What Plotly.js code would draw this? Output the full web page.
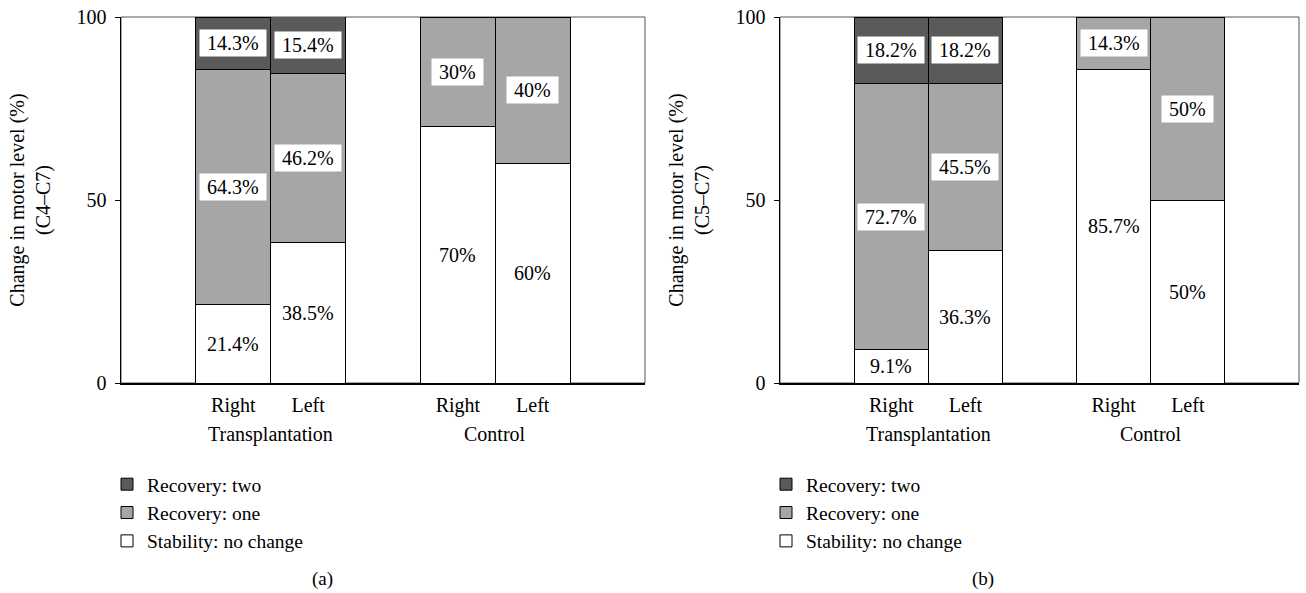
<!DOCTYPE html>
<html>
<head>
<meta charset="utf-8">
<script src="https://cdn.plot.ly/plotly-3.0.1.min.js"></script>
<style>
  html, body { margin: 0; padding: 0; background: #fff; }
  #chart { width: 1306px; height: 593px; }
</style>
</head>
<body>
<div id="chart"></div>
<script>
// ---------------- data ----------------
const groups = ['Transplantation', 'Control'];
const sides = ['Right', 'Left'];
const seriesNames = ['Stability: no change', 'Recovery: one', 'Recovery: two'];
// order of bars: Transplantation Right, Transplantation Left, Control Right, Control Left
// panel (a): C4–C7
const stabilityA   = [21.4, 38.5, 70, 60];
const recoveryOneA = [64.3, 46.2, 30, 40];
const recoveryTwoA = [14.3, 15.4, 0, 0];
// panel (b): C5–C7
const stabilityB   = [9.1, 36.3, 85.7, 50];
const recoveryOneB = [72.7, 45.5, 14.3, 50];
const recoveryTwoB = [18.2, 18.2, 0, 0];
const yTickValues = [0, 50, 100];
const yTitles = ['Change in motor level (%)<br>(C4–C7)', 'Change in motor level (%)<br>(C5–C7)'];
const captions = ['(a)', '(b)'];

// ---------------- layout helpers ----------------
const FONT = 'Liberation Serif, Times New Roman, serif';
const FS = 20;
const colors = ['#ffffff', '#a6a6a6', '#5a5a5a'];
const W = 1306, H = 593;

// bar slots: group gi, side si
const barX = [];
const tickText = [];
groups.forEach((g, gi) => sides.forEach((s, si) => { barX.push(1.5 + gi * 3 + si); tickText.push(s); }));
const groupX = groups.map((g, gi) => 2 + gi * 3);

const panels = [
  { series: [stabilityA, recoveryOneA, recoveryTwoA], xa: 'x', ya: 'y', legend: 'legend',
    dom: [121 / W, 645 / W], capX: 322 / W },
  { series: [stabilityB, recoveryOneB, recoveryTwoB], xa: 'x2', ya: 'y2', legend: 'legend2',
    dom: [780 / W, 1299 / W], capX: 983 / W }
];

const traces = [];
const annotations = [];
const shapes = [];
const yDom = [1 - 383 / H, 1 - 17 / H];

panels.forEach((p, pi) => {
  p.series.forEach((vals, si) => {
    traces.push({
      type: 'bar',
      x: barX,
      y: vals,
      width: 1,
      name: seriesNames[si],
      xaxis: p.xa,
      yaxis: p.ya,
      legend: p.legend,
      legendgroup: 'p' + pi + 's' + si,
      marker: { color: colors[si], line: { color: '#000', width: 1 } },
      hoverinfo: 'skip'
    });
  });
  // value labels at segment midpoints
  barX.forEach((bx, bi) => {
    let base = 0;
    p.series.forEach((vals, si) => {
      const v = vals[bi];
      if (v > 0) {
        annotations.push({
          xref: p.xa, yref: p.ya, x: bx, y: base + v / 2,
          text: '\u00a0' + v + '%\u00a0',
          showarrow: false,
          font: { family: FONT, size: FS, color: '#000' },
          bgcolor: '#ffffff', borderpad: 2,
          xanchor: 'center', yanchor: 'middle'
        });
      }
      base += v;
    });
  });
  // group labels
  groups.forEach((g, gi) => {
    annotations.push({
      xref: p.xa, yref: 'paper', x: groupX[gi], y: 1 - 434 / H,
      text: g, showarrow: false, xanchor: 'center', yanchor: 'middle',
      font: { family: FONT, size: FS, color: '#000' }
    });
  });
  // caption
  annotations.push({
    xref: 'paper', yref: 'paper', x: p.capX, y: 1 - 579 / H,
    text: captions[pi], showarrow: false, xanchor: 'center', yanchor: 'middle',
    font: { family: FONT, size: FS - 1, color: '#000' }
  });
  // frame (top / right)
  shapes.push({
    type: 'rect', xref: p.xa + ' domain', yref: p.ya + ' domain',
    x0: 0, x1: 1, y0: 0, y1: 1, line: { color: '#555', width: 1 }, layer: 'below'
  });
});

function xAxis(dom) {
  return {
    domain: dom, range: [0, 7], showgrid: false, zeroline: false,
    showline: true, linecolor: '#000', linewidth: 2,
    tickmode: 'array', tickvals: barX, ticktext: tickText, ticks: '',
    ticklabelstandoff: 3,
    tickfont: { family: FONT, size: FS, color: '#000' }, fixedrange: true
  };
}
function yAxis(anchor, title) {
  return {
    domain: yDom, range: [0, 100], anchor: anchor, showgrid: false, zeroline: false,
    showline: true, linecolor: '#000', linewidth: 1.5,
    tickmode: 'array', tickvals: yTickValues, ticks: 'outside', ticklen: 5,
    tickcolor: '#000', tickwidth: 1, ticklabelstandoff: 4,
    tickfont: { family: FONT, size: FS, color: '#000' },
    title: { text: title, font: { family: FONT, size: FS, color: '#000' }, standoff: 20 },
    fixedrange: true
  };
}

const legendBase = {
  yanchor: 'top', xanchor: 'left', traceorder: 'reversed', tracegroupgap: 0,
  bgcolor: 'rgba(0,0,0,0)', font: { family: FONT, size: 19.5, color: '#000' }
};

const layout = {
  width: W, height: H,
  margin: { l: 0, r: 0, t: 0, b: 0 },
  paper_bgcolor: '#fff', plot_bgcolor: '#fff',
  font: { family: FONT, size: FS, color: '#000' },
  barmode: 'stack', bargap: 0,
  showlegend: true,
  xaxis: Object.assign(xAxis(panels[0].dom), { anchor: 'y' }),
  yaxis: yAxis('x', yTitles[0]),
  xaxis2: Object.assign(xAxis(panels[1].dom), { anchor: 'y2' }),
  yaxis2: yAxis('x2', yTitles[1]),
  legend: Object.assign({}, legendBase, { x: 107 / W, y: 1 - 465 / H }),
  legend2: Object.assign({}, legendBase, { x: 766 / W, y: 1 - 465 / H }),
  annotations: annotations,
  shapes: shapes
};

Plotly.newPlot('chart', traces, layout, { staticPlot: true, displayModeBar: false });
</script>
</body>
</html>
